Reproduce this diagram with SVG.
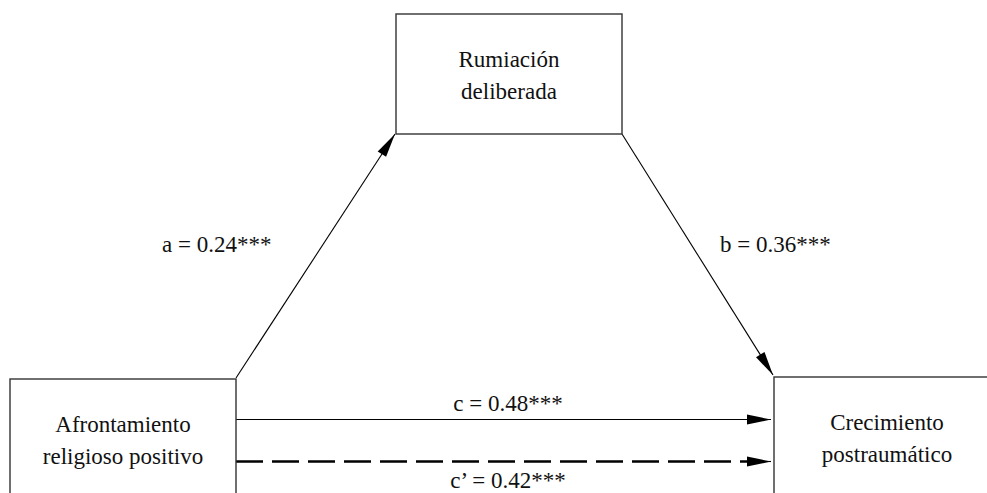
<svg xmlns="http://www.w3.org/2000/svg" width="987" height="493" viewBox="0 0 987 493">
<style>
.box{fill:#fff;stroke:#333;stroke-width:1.4}
.t{font-family:"Liberation Serif","Times New Roman",serif;font-size:23px;fill:#111;text-anchor:middle}
.l{font-family:"Liberation Serif","Times New Roman",serif;font-size:23px;fill:#111}
.e{fill:none;stroke:#000;stroke-width:1.1}
.d{fill:none;stroke:#000;stroke-width:2.6;stroke-dasharray:27 9}
</style>
<defs>
<marker id="ah" markerUnits="userSpaceOnUse" markerWidth="24" markerHeight="10" refX="24" refY="5" orient="auto" overflow="visible">
<path d="M0,0 L24,5 L0,10 Z" fill="#000" stroke="none"/>
</marker>
</defs>
<rect width="987" height="493" fill="#fff"/>
<g id="connectors">
<line class="e" x1="236" y1="378" x2="395" y2="134" marker-end="url(#ah)"/>
<line class="e" x1="622" y1="134" x2="773" y2="375" marker-end="url(#ah)"/>
<line class="e" x1="236" y1="419.5" x2="771" y2="419.5" marker-end="url(#ah)"/>
<line class="d" x1="236" y1="461.5" x2="748" y2="461.5"/>
<line class="e" x1="746" y1="461.5" x2="771" y2="461.5" marker-end="url(#ah)"/>
<text class="l" x="162" y="252">a = 0.24***</text>
<text class="l" x="720" y="252">b = 0.36***</text>
<text class="t" x="508" y="411">c = 0.48***</text>
<text class="t" x="508" y="488">c’ = 0.42***</text>
</g>
<g id="node-rumiacion">
<rect class="box" x="396" y="14" width="226" height="120"/>
<text class="t" x="509" y="67">Rumiación</text>
<text class="t" x="509" y="99">deliberada</text>
</g>
<g id="node-afrontamiento">
<rect class="box" x="10" y="379" width="226" height="140"/>
<text class="t" x="123" y="432">Afrontamiento</text>
<text class="t" x="123" y="464">religioso positivo</text>
</g>
<g id="node-crecimiento">
<rect class="box" x="774" y="377" width="226" height="140"/>
<text class="t" x="887" y="430">Crecimiento</text>
<text class="t" x="887" y="462">postraumático</text>
</g>
</svg>
